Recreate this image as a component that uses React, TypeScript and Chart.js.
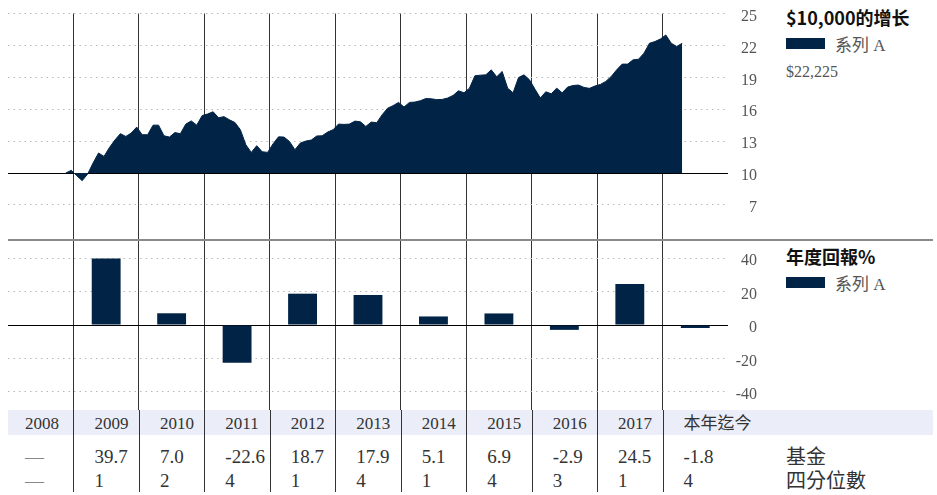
import React, { useEffect, useRef } from "react";
import { Chart, registerables } from "chart.js";

Chart.register(...registerables);

// ---------- data ----------
const years = ["2008", "2009", "2010", "2011", "2012", "2013", "2014", "2015", "2016", "2017", "本年迄今"];
const fundReturns: (number | null)[] = [null, 39.7, 7.0, -22.6, 18.7, 17.9, 5.1, 6.9, -2.9, 24.5, -1.8];
const quartiles: (number | null)[] = [null, 1, 2, 4, 1, 4, 1, 4, 3, 1, 4];

// growth of $10,000 (thousands), monthly, first point ~ Nov 2008 (months counted from Jan 2008)
const growthFirstMonth = 10.6;
const growthValues = [
  10.0, 10.25, 9.75, 9.28, 9.9, 10.94, 11.88, 11.56, 12.4, 13.1,
  13.7, 13.44, 13.76, 14.32, 13.6, 13.6, 14.5, 14.5, 13.5, 13.38,
  13.8, 13.7, 14.6, 14.9, 14.5, 15.4, 15.55, 15.76, 15.2, 15.3,
  15.0, 14.75, 14.07, 12.66, 11.94, 12.57, 12.0, 11.94, 12.75, 13.4,
  13.38, 12.97, 12.19, 12.82, 13.0, 13.1, 13.48, 13.5, 13.85, 14.07,
  14.6, 14.57, 14.6, 14.88, 14.82, 14.38, 14.79, 14.73, 15.48, 16.1,
  16.33, 16.64, 16.2, 16.64, 16.67, 16.8, 17.0, 16.98, 16.9, 16.92,
  17.05, 17.3, 17.73, 17.54, 17.98, 19.14, 19.2, 19.23, 19.7, 19.05,
  19.55, 17.98, 17.54, 18.98, 19.23, 18.77, 17.89, 17.05, 17.64, 17.45,
  17.98, 17.54, 18.08, 18.23, 18.27, 18.05, 17.96, 18.18, 18.33, 18.61,
  19.08, 19.71, 20.24, 20.24, 20.64, 20.7, 21.27, 22.2, 22.36, 22.6,
  22.98, 22.2, 21.9, 22.2,
];
const growthTicks = [7, 10, 13, 16, 19, 22, 25];
const growthBase = 10;
const returnTicks = [-40, -20, 0, 20, 40];
const endValueLabel = "$22,225";
const seriesName = "系列 A";
const growthTitle = "$10,000的增长";
const returnTitle = "年度回報%";
const rowLabels = ["基金", "四分位數"];

// ---------- style ----------
const NAVY = "#012346";
const DIVIDER = "#333333";
const DOT = "#b8b8b8";
const SERIF = '"Liberation Serif", "Noto Sans CJK TC", serif';
const SANS = '"Noto Sans CJK SC", "Noto Sans CJK TC", "Noto Sans", sans-serif';
const TICK_FONT = { family: '"Liberation Serif", serif', size: 16 };
const PLOT_LEFT = 8;
const PLOT_W = 720;
const AXIS_W = 29;
const COL_W = PLOT_W / years.length;

const monthsPerYear = 12;

const fitY = (s: any) => {
  s.width = AXIS_W;
  s.paddingTop = 0;
  s.paddingBottom = 0;
};
const fitX = (s: any) => {
  s.height = 0;
  s.paddingLeft = 0;
  s.paddingRight = 0;
};

function GrowthChart() {
  const ref = useRef<HTMLCanvasElement | null>(null);
  useEffect(() => {
    if (!ref.current) return;
    const boundaries = years.slice(1).map((_, i) => (i + 1) * monthsPerYear);
    const chart = new Chart(ref.current, {
      type: "line",
      data: {
        datasets: [
          {
            data: growthValues.map((v, i) => ({ x: growthFirstMonth + i, y: v })),
            borderColor: NAVY,
            borderWidth: 1,
            backgroundColor: NAVY,
            fill: { value: growthBase },
            pointRadius: 0,
            tension: 0,
          },
        ],
      },
      options: {
        animation: false,
        responsive: false,
        maintainAspectRatio: false,
        layout: { padding: { left: PLOT_LEFT, top: 13.5, right: 0, bottom: 0 } },
        plugins: { legend: { display: false }, tooltip: { enabled: false } },
        scales: {
          x: {
            type: "linear",
            min: 0,
            max: years.length * monthsPerYear,
            afterBuildTicks: (s: any) => {
              s.ticks = boundaries.map((v) => ({ value: v }));
            },
            afterFit: fitX,
            ticks: { display: false },
            grid: { color: DIVIDER, lineWidth: 1, drawTicks: false },
            border: { display: false },
          },
          y: {
            position: "right",
            min: 3.7,
            max: 25,
            afterBuildTicks: (s: any) => {
              s.ticks = growthTicks.map((v) => ({ value: v }));
            },
            afterFit: fitY,
            ticks: { font: TICK_FONT, color: "#555", crossAlign: "far", padding: 0, labelOffset: 3 },
            grid: {
              drawTicks: false,
              color: (ctx: any) => (ctx.tick && ctx.tick.value === growthBase ? "#000" : DOT),
            },
            border: {
              display: false,
              dash: (ctx: any) => (ctx.tick && ctx.tick.value === growthBase ? [] : [1.5, 4]),
            },
          },
        },
      },
    } as any);
    return () => chart.destroy();
  }, []);
  return (
    <canvas
      ref={ref}
      width={PLOT_LEFT + PLOT_W + AXIS_W}
      height={240}
      style={{ position: "absolute", left: 0, top: 0, width: PLOT_LEFT + PLOT_W + AXIS_W, height: 240 }}
    />
  );
}

function ReturnChart() {
  const ref = useRef<HTMLCanvasElement | null>(null);
  useEffect(() => {
    if (!ref.current) return;
    const chart = new Chart(ref.current, {
      type: "bar",
      data: {
        labels: years,
        datasets: [
          {
            data: fundReturns,
            backgroundColor: NAVY,
            barPercentage: 0.9,
            categoryPercentage: 0.49,
          },
        ],
      },
      options: {
        animation: false,
        responsive: false,
        maintainAspectRatio: false,
        layout: { padding: { left: PLOT_LEFT, top: 0, right: 0, bottom: 0 } },
        plugins: { legend: { display: false }, tooltip: { enabled: false } },
        scales: {
          x: {
            afterFit: fitX,
            ticks: { display: false },
            grid: {
              offset: true,
              drawTicks: false,
              color: (ctx: any) => (ctx.type === "tick" && ctx.index > 0 ? DIVIDER : "rgba(0,0,0,0)"),
            },
            border: { display: false },
          },
          y: {
            position: "right",
            min: -50.75,
            max: 50.75,
            afterBuildTicks: (s: any) => {
              s.ticks = returnTicks.map((v) => ({ value: v }));
            },
            afterFit: fitY,
            ticks: { font: TICK_FONT, color: "#555", crossAlign: "far", padding: 0, labelOffset: 3 },
            grid: {
              drawTicks: false,
              color: (ctx: any) => (ctx.tick && ctx.tick.value === 0 ? "#000" : DOT),
            },
            border: {
              display: false,
              dash: (ctx: any) => (ctx.tick && ctx.tick.value === 0 ? [] : [1.5, 4]),
            },
          },
        },
      },
    } as any);
    return () => chart.destroy();
  }, []);
  return (
    <canvas
      ref={ref}
      width={PLOT_LEFT + PLOT_W + AXIS_W}
      height={170}
      style={{ position: "absolute", left: 0, top: 240, width: PLOT_LEFT + PLOT_W + AXIS_W, height: 170 }}
    />
  );
}

function Legend({ top, title, sub }: { top: number; title: string; sub?: string }) {
  return (
    <div style={{ position: "absolute", left: 786, top, width: 150 }}>
      <div style={{ fontFamily: SANS, fontWeight: 700, fontSize: 18, lineHeight: "22px", color: "#111", whiteSpace: "nowrap" }}>
        {title}
      </div>
      <div style={{ display: "flex", alignItems: "center", marginTop: 4, height: 22 }}>
        <div style={{ width: 39, height: 11, background: NAVY }} />
        <div style={{ marginLeft: 10, fontFamily: SERIF, fontSize: 17, color: "#555", whiteSpace: "nowrap" }}>{seriesName}</div>
      </div>
      {sub ? (
        <div style={{ marginTop: 9, fontFamily: SERIF, fontSize: 16, color: "#555" }}>{sub}</div>
      ) : null}
    </div>
  );
}

function Table() {
  const fmt = (v: number | null, digits: number) => (v === null ? "—" : digits > 0 ? v.toFixed(digits) : String(v));
  return (
    <div style={{ position: "absolute", left: PLOT_LEFT, top: 410, width: 925, height: 82 }}>
      <div style={{ position: "absolute", left: 0, top: 0, width: 925, height: 25, background: "#ebeef8" }} />
      <div style={{ position: "absolute", left: 0, top: 0, display: "flex", height: 82 }}>
        {years.map((y, i) => (
          <div
            key={y}
            style={{
              width: COL_W,
              height: 82,
              boxSizing: "border-box",
              borderLeft: i > 0 ? `1px solid ${DIVIDER}` : "none",
              paddingLeft: i > 0 ? 20 : 17,
              fontFamily: SERIF,
              color: "#333",
              whiteSpace: "nowrap",
            }}
          >
            <div style={{ height: 25, lineHeight: "27px", fontSize: 17 }}>{y}</div>
            <div style={{ marginTop: 10, height: 24, lineHeight: "24px", fontSize: 19, color: fundReturns[i] === null ? "#888" : "#333" }}>
              {fmt(fundReturns[i], 1)}
            </div>
            <div style={{ height: 24, lineHeight: "24px", fontSize: 19, color: quartiles[i] === null ? "#888" : "#333" }}>
              {fmt(quartiles[i], 0)}
            </div>
          </div>
        ))}
      </div>
      <div style={{ position: "absolute", left: 778, top: 35, fontFamily: SERIF, fontSize: 20, lineHeight: "24px", color: "#333" }}>
        <div>{rowLabels[0]}</div>
        <div>{rowLabels[1]}</div>
      </div>
    </div>
  );
}

export default function App() {
  return (
    <div style={{ position: "absolute", left: 0, top: 0, width: 937, height: 495, background: "#fff", overflow: "hidden" }}>
      <GrowthChart />
      <ReturnChart />
      <div style={{ position: "absolute", left: PLOT_LEFT, top: 239, width: 925, height: 2, background: "#8a8a8a" }} />
      <Legend top={6} title={growthTitle} sub={endValueLabel} />
      <Legend top={245} title={returnTitle} />
      <Table />
    </div>
  );
}
